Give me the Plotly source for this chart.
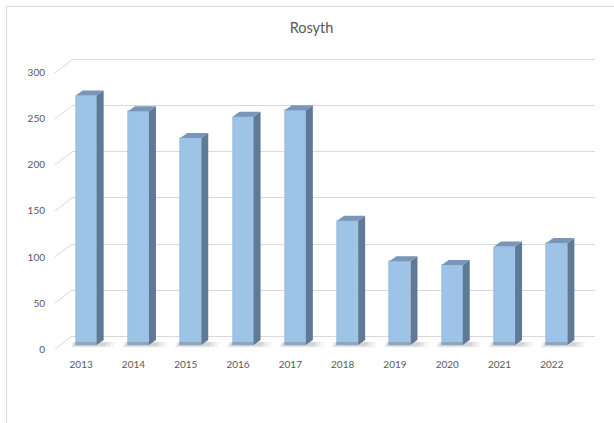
import plotly.graph_objects as go

# ---- data ----
years = ["2013", "2014", "2015", "2016", "2017", "2018", "2019", "2020", "2021", "2022"]
values = [271, 254, 225, 248, 255, 135, 91, 87, 107, 111]
y_ticks = [0, 50, 100, 150, 200, 250, 300]
title_text = "Rosyth"

# ---- geometry (pseudo-3D, Excel style) ----
W, H = 614, 423
ML, MR, MT, MB = 72, 19, 58, 74
plot_w = W - ML - MR
plot_h = H - MT - MB
x_rng = [-0.5, len(years) - 0.5]
y_rng = [-14, 302]
px_x = plot_w / (x_rng[1] - x_rng[0])   # px per category
px_y = plot_h / (y_rng[1] - y_rng[0])   # px per unit

floor_dx_px, floor_dy_px = 17, 13        # front plane offset from back wall
bar_off_dx_px, bar_off_dy_px = 12, 9     # bar front face offset from back wall
bar_w_px = 21
depth_dx_px, depth_dy_px = 7, 5

bx = bar_off_dx_px / px_x
by = bar_off_dy_px / px_y
bw = bar_w_px / px_x
ddx = depth_dx_px / px_x
ddy = depth_dy_px / px_y

idx = list(range(len(years)))
xc = [i - bx for i in idx]
base = -by

FRONT = "#9DC3E6"
SIDE = "#5E7A96"
TOP = "#7896B8"

fig = go.Figure()

# soft floor shadows (layered)
for spread, alpha in [(0.32, 0.06), (0.24, 0.08), (0.16, 0.12)]:
    shx, shy = [], []
    for i, v in zip(idx, values):
        xl = xc[i] - bw / 2
        xr = xc[i] + bw / 2
        shx += [xl - spread * 0.35, xr + spread, xr + spread + ddx * 0.3, xl - spread * 0.35 + ddx * 0.3, None]
        shy += [base - 2.5 * spread / 0.32, base - 2.5 * spread / 0.32, base + ddy * 0.6, base + ddy * 0.6, None]
    fig.add_trace(go.Scatter(x=shx, y=shy, mode="lines", fill="toself",
                             fillcolor=f"rgba(80,80,80,{alpha})", line=dict(width=0),
                             hoverinfo="skip", showlegend=False))

# front faces
fig.add_trace(go.Bar(x=xc, y=values, base=base, width=bw,
                     marker=dict(color=FRONT, line=dict(color="#8FB3D6", width=0.6)),
                     hovertext=years, showlegend=False))

# side faces
sx, sy = [], []
for i, v in zip(idx, values):
    xr = xc[i] + bw / 2
    sx += [xr, xr + ddx, xr + ddx, xr, xr, None]
    sy += [base, base + ddy, base + v + ddy, base + v, base, None]
fig.add_trace(go.Scatter(x=sx, y=sy, mode="lines", fill="toself", fillcolor=SIDE,
                         line=dict(width=0), hoverinfo="skip", showlegend=False))

# top faces
tx, ty = [], []
for i, v in zip(idx, values):
    xl = xc[i] - bw / 2
    xr = xc[i] + bw / 2
    top = base + v
    tx += [xl, xr, xr + ddx, xl + ddx, xl, None]
    ty += [top, top, top + ddy, top + ddy, top, None]
fig.add_trace(go.Scatter(x=tx, y=ty, mode="lines", fill="toself", fillcolor=TOP,
                         line=dict(width=0), hoverinfo="skip", showlegend=False))

# side-wall diagonal lines (left wall), from tick values
def y_paper(v):
    return (v - y_rng[0]) / (y_rng[1] - y_rng[0])

shapes = []
for t in y_ticks:
    shapes.append(dict(type="line", xref="paper", yref="paper",
                       x0=-floor_dx_px / plot_w, y0=y_paper(t) - floor_dy_px / plot_h,
                       x1=0, y1=y_paper(t),
                       line=dict(color="#D9D9D9", width=1)))
# chart frame
shapes.append(dict(type="rect", xref="paper", yref="paper",
                   x0=(6.5 - ML) / plot_w, x1=(W + 10 - ML) / plot_w,
                   y0=(H - MB - (H + 10)) / plot_h, y1=(H - MB - 6.5) / plot_h,
                   line=dict(color="#D9D9D9", width=1), fillcolor="rgba(0,0,0,0)",
                   layer="below"))

fig.update_layout(
    width=W, height=H,
    margin=dict(l=ML, r=MR, t=MT, b=MB),
    paper_bgcolor="white", plot_bgcolor="white",
    font=dict(family="Lato", color="#595959", size=10),
    title=dict(text=title_text, x=311.5 / W, xref="container", xanchor="center",
               y=1 - 27.5 / H, yref="container", yanchor="middle",
               font=dict(family="Lato", size=14.5, color="#595959")),
    xaxis=dict(range=x_rng, tickvals=idx, ticktext=years, showgrid=False,
               zeroline=False, showline=False, ticks="",
               ticklabelshift=-floor_dx_px, ticklabelstandoff=8,
               tickfont=dict(size=10, color="#595959")),
    yaxis=dict(range=y_rng, tickvals=y_ticks, showgrid=True, gridcolor="#D9D9D9",
               gridwidth=1, zeroline=False, showline=False, ticks="",
               ticklabelshift=floor_dy_px, ticklabelstandoff=26,
               tickfont=dict(size=10, color="#595959")),
    shapes=shapes,
    bargap=0,
)

fig.write_html("out.html")
